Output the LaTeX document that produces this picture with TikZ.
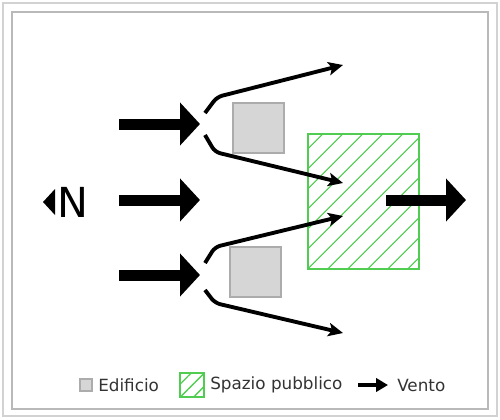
\documentclass[tikz,border=0pt]{standalone}
\usepackage{fontspec}
\setmainfont{DejaVu Sans}
\usetikzlibrary{arrows.meta, patterns.meta, positioning}
\definecolor{hatchgreen}{RGB}{80,205,80}
\definecolor{bldgray}{RGB}{214,214,214}

\tikzset{
	wind/.style={line width=8.25pt, -{Triangle[length=15pt,width=31.5pt]}},
	flow/.style={line width=2.9pt, rounded corners=4pt, -{Stealth[length=11pt,width=10pt,inset=2.5pt]}},
	building/.style={draw=gray!65, fill=bldgray, line width=0.8pt, inner sep=0pt},
	plaza/.style={draw=hatchgreen, line width=1pt, inner sep=0pt, pattern={Lines[angle=45,distance=10.5pt,line width=0.9pt]}, pattern color=hatchgreen},
	legtext/.style={anchor=west, inner sep=0pt, font=\fontsize{12.6}{14}\selectfont, text=black!80}
}

\begin{document}
\begin{tikzpicture}[x=0.75pt, y=-0.75pt]
	\useasboundingbox (0,0) rectangle (500,419);
	% Frame
	\draw[gray!35, line width=1.6pt] (3,3) rectangle (497,416);
	\draw[gray!55, line width=1pt] (12,12) rectangle (488,409);
	% North
	\node[inner sep=0pt, font=\fontsize{31}{31}\selectfont] (north) at (73,202) {N};
	\fill (43,202) -- (55,189) -- (55,215) -- cycle;
	% Buildings and public space
	\node[building, minimum width=38.25pt, minimum height=37.5pt] (bldtop) at (258.5,128) {};
	\node[building, minimum width=38.25pt, minimum height=37.5pt] (bldbot) at (255.5,272) {};
	\node[plaza, minimum width=83.25pt, minimum height=101.25pt] (plaza) at (363.5,201.5) {};
	% Incoming wind
	\coordinate (intop) at (119,124);
	\coordinate (inmid) at (119,200);
	\coordinate (inbot) at (119,275);
	\coordinate (hittop) at (200,124);
	\coordinate (hitmid) at (200,200);
	\coordinate (hitbot) at (200,275);
	\draw[wind] (intop) -- (hittop);
	\draw[wind] (inmid) -- (hitmid);
	\draw[wind] (inbot) -- (hitbot);
	% Outgoing wind
	\coordinate (outstart) at (386,200);
	\coordinate (outend) at (466,200);
	\draw[wind] (outstart) -- (outend);
	% Split around the buildings
	\coordinate (endA) at (343,65);
	\coordinate (endB) at (343,183);
	\coordinate (endC) at (343,216);
	\coordinate (endD) at (343,333);
	\draw[flow] (205,113) -- (217,97) -- (endA);
	\draw[flow] (205,135) -- (215,152) -- (endB);
	\draw[flow] (205,263) -- (215,247) -- (endC);
	\draw[flow] (205,290) -- (215,303) -- (endD);
	% Legend
	\node[building, minimum size=9pt] (legbld) at (86,385) {};
	\node[legtext] (legbldtxt) at (98,385) {Edificio};
	\node[plaza, minimum size=18pt, pattern={Lines[angle=45,distance=7pt,line width=1pt]}] (legplaza) at (192,385) {};
	\node[legtext] (legplazatxt) at (210,385) {Spazio pubblico};
	\coordinate (legwindA) at (358,385);
	\coordinate (legwindB) at (388,385);
	\draw[line width=2.8pt, -{Triangle[length=9pt,width=10pt]}] (legwindA) -- (legwindB);
	\node[legtext] (legwindtxt) at (397,385) {Vento};
\end{tikzpicture}
\end{document}
